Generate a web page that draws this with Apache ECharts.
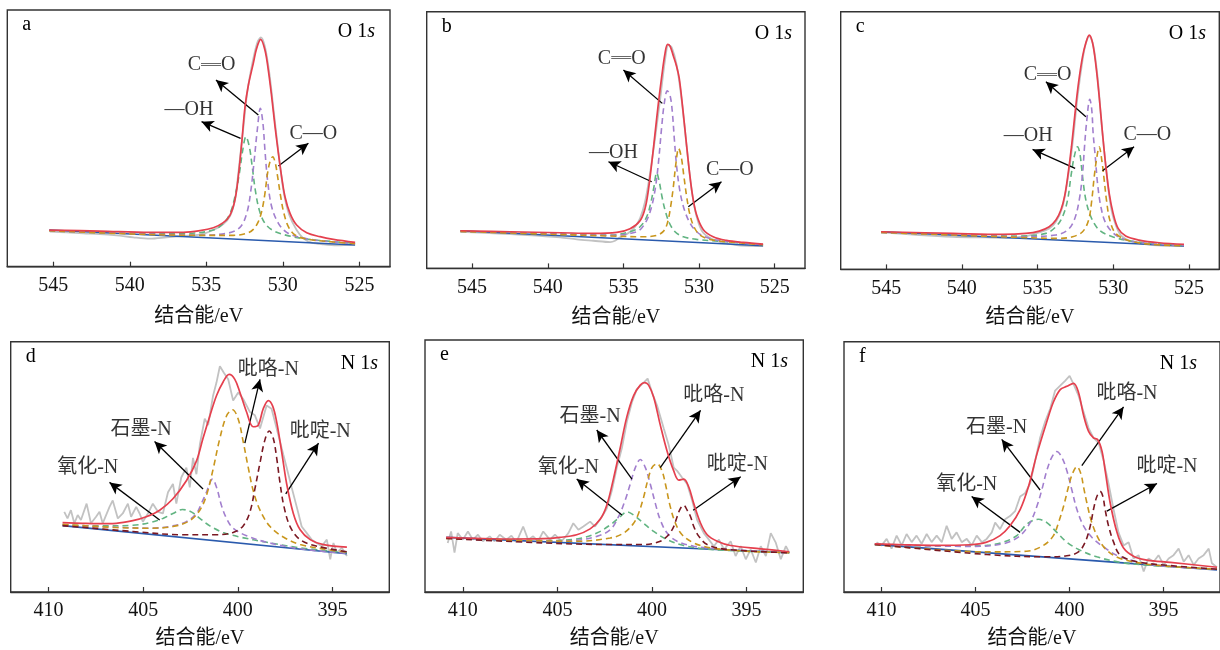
<!DOCTYPE html>
<html><head><meta charset="utf-8">
<script src="https://cdn.jsdelivr.net/npm/echarts@6/dist/echarts.min.js"></script>
<style>html,body{margin:0;padding:0;background:#fff}#c{width:1220px;height:650px}</style>
</head><body><div id="c"></div>
<script>
// ---------- tick labels ----------
const oTicks = [525, 530, 535, 540, 545];
const nTicks = [395, 400, 405, 410];

// ---------- panel a : O 1s ----------
const aBase = [[545.26,110],[525.28,65]];
const aRaw = [[545.22,105],[544.13,103],[543.04,100],[541.95,98],[540.86,94],[539.77,88],[538.68,84],[537.59,88],[536.50,92],[535.41,96],[534.54,110],[533.89,128],[533.45,152],[533.13,200],[532.91,280],[532.62,400],[532.32,525],[531.97,615],[531.67,672],[531.43,688],[531.17,660],[530.88,580],[530.58,460],[530.23,320],[529.93,220],[529.58,155],[529.10,110],[528.66,85],[528.12,72],[527.35,67],[526.48,64],[525.28,67]];
const aFit = [[545.26,110],[541.95,107],[538.68,103],[536.50,103],[535.41,108],[534.54,117],[533.89,132],[533.45,155],[533.13,200],[532.91,270],[532.69,370],[532.47,480],[532.25,545],[531.93,610],[531.71,655],[531.45,682],[531.17,650],[530.95,590],[530.73,510],[530.51,420],[530.29,340],[530.08,270],[529.86,210],[529.53,160],[529.10,125],[528.44,102],[527.57,90],[526.70,82],[525.28,73]];
const aOH = [[545.26,108],[539.77,100],[536.28,100],[534.54,110],[533.89,130],[533.45,160],[533.13,210],[532.84,280],[532.62,350],[532.41,390],[532.19,360],[532.00,300],[531.80,230],[531.54,170],[531.17,130],[530.62,108],[529.75,94],[528.44,83],[526.70,75],[525.28,70]];
const aCdO = [[545.26,108],[539.77,99],[535.41,95],[533.67,100],[532.80,118],[532.36,160],[532.10,225],[531.89,310],[531.67,410],[531.47,475],[531.30,430],[531.17,350],[531.00,260],[530.73,180],[530.29,130],[529.75,103],[528.88,88],[527.57,78],[525.28,69]];
const aCO = [[545.26,108],[539.77,98],[535.41,94],[533.24,94],[532.36,100],[531.93,112],[531.60,135],[531.36,170],[531.17,220],[531.00,280],[530.84,315],[530.66,330],[530.49,310],[530.34,270],[530.14,210],[529.93,160],[529.64,120],[529.21,95],[528.44,83],[526.70,74],[525.28,69]];

// ---------- panel b : O 1s ----------
const bBase = [[545.77,113],[525.77,68]];
const bRaw = [[545.77,110],[543.57,105],[541.37,100],[539.18,93],[538.08,87],[536.98,83],[535.88,79],[535.55,83],[535.22,93],[534.89,100],[534.56,110],[534.23,125],[533.90,150],[533.57,200],[533.24,285],[532.91,390],[532.58,505],[532.25,625],[532.03,670],[531.81,663],[531.48,610],[531.15,505],[530.82,365],[530.49,235],[530.16,155],[529.73,107],[528.85,83],[527.53,70],[525.77,67]];
const bFit = [[545.77,113],[542.47,110],[539.18,107],[536.98,105],[535.44,108],[534.56,119],[533.90,143],[533.57,180],[533.35,235],[533.13,315],[532.91,405],[532.69,495],[532.47,575],[532.25,645],[532.08,672],[531.92,667],[531.70,637],[531.48,605],[531.31,570],[531.09,485],[530.86,385],[530.65,295],[530.42,215],[530.16,160],[529.73,117],[529.07,95],[528.19,84],[527.09,78],[525.77,73]];
const bOH = [[545.77,111],[540.27,105],[535.88,100],[534.56,110],[533.90,125],[533.46,155],[533.20,195],[532.98,245],[532.80,287],[532.63,260],[532.45,215],[532.25,175],[531.97,137],[531.59,110],[531.04,95],[530.16,87],[528.19,80],[525.77,71]];
const bCdO = [[545.77,111],[540.27,105],[535.88,99],[534.12,110],[533.57,135],[533.20,175],[532.91,235],[532.69,315],[532.47,425],[532.30,495],[532.10,533],[531.90,515],[531.76,465],[531.63,385],[531.48,305],[531.26,230],[531.00,180],[530.65,140],[530.27,115],[529.73,97],[528.85,85],[527.09,77],[525.77,71]];
const bCO = [[545.77,111],[540.27,103],[535.88,97],[533.68,95],[532.80,99],[532.36,111],[532.10,135],[531.88,185],[531.70,245],[531.53,315],[531.35,360],[531.18,335],[531.00,275],[530.82,215],[530.60,160],[530.34,125],[529.95,100],[529.29,87],[528.19,80],[525.77,71]];

// ---------- panel c : O 1s ----------
const cBase = [[545.33,113],[525.33,70]];
const cRaw = [[545.33,111],[542.80,103],[540.60,98],[538.41,96],[537.09,95],[535.77,100],[534.89,111],[534.23,123],[533.79,143],[533.35,188],[533.02,268],[532.69,378],[532.36,518],[532.03,628],[531.81,678],[531.59,700],[531.33,673],[531.04,578],[530.76,428],[530.49,308],[530.23,208],[529.95,148],[529.51,103],[528.74,83],[527.42,73],[525.33,70]];
const cFit = [[545.33,113],[540.60,108],[537.31,105],[535.77,108],[534.89,115],[534.23,128],[533.79,148],[533.46,178],[533.20,223],[532.98,288],[532.76,368],[532.54,463],[532.30,558],[532.03,638],[531.81,680],[531.59,703],[531.37,680],[531.15,613],[530.93,518],[530.71,408],[530.49,308],[530.27,228],[530.01,168],[529.68,123],[529.18,100],[528.30,88],[526.98,80],[525.33,75]];
const cOH = [[545.33,111],[540.60,105],[536.21,100],[534.45,108],[533.79,128],[533.35,158],[533.02,208],[532.80,278],[532.58,338],[532.36,368],[532.19,343],[532.03,278],[531.81,208],[531.48,158],[530.93,118],[530.05,98],[528.96,86],[527.42,78],[525.33,72]];
const cCdO = [[545.33,111],[540.60,104],[536.21,98],[533.79,103],[533.02,118],[532.58,148],[532.25,208],[532.03,288],[531.90,368],[531.77,438],[531.55,510],[531.42,478],[531.33,408],[531.19,338],[531.04,258],[530.82,188],[530.49,138],[529.84,103],[528.96,86],[527.42,77],[525.33,72]];
const cCO = [[545.33,111],[540.60,103],[536.21,96],[533.57,93],[532.69,98],[532.03,113],[531.63,148],[531.42,208],[531.26,278],[531.08,338],[530.93,368],[530.76,328],[530.60,268],[530.45,208],[530.23,148],[529.84,108],[528.96,86],[527.42,75],[525.33,71]];

// ---------- panel d : N 1s ----------
const dBase = [[409.26,203],[394.24,117]];
const dRaw = [[409.17,245],[409.0,225],[408.82,250],[408.64,210],[408.46,235],[408.29,220],[407.99,270],[407.76,210],[407.49,230],[407.31,245],[407.14,210],[406.78,260],[406.61,280],[406.34,225],[406.08,240],[405.81,270],[405.64,230],[405.37,260],[405.19,240],[405.02,215],[404.75,240],[404.49,270],[404.22,245],[403.96,240],[403.69,305],[403.43,330],[403.25,270],[402.99,350],[402.72,380],[402.54,320],[402.37,410],[402.19,360],[402.01,450],[401.75,530],[401.57,510],[401.31,600],[401.13,640],[400.95,690],[400.74,670],[400.51,650],[400.25,585],[399.98,610],[399.72,590],[399.36,550],[399.10,540],[398.83,500],[398.48,570],[398.22,560],[397.95,500],[397.60,420],[397.42,380],[397.16,320],[396.98,280],[396.80,240],[396.63,200],[396.36,180],[396.10,160],[395.83,150],[395.57,140],[395.30,160],[395.12,100],[394.95,150],[394.77,120],[394.51,135],[394.24,110]];
const dFit = [[409.26,212],[408.20,210],[407.31,209],[406.43,210],[405.55,218],[404.84,230],[404.13,250],[403.43,285],[402.72,340],[402.19,400],[401.84,470],[401.48,538],[401.13,600],[400.78,642],[400.46,665],[400.16,650],[399.89,610],[399.54,550],[399.19,505],[398.92,510],[398.66,560],[398.39,585],[398.16,568],[397.95,520],[397.69,430],[397.42,330],[397.07,240],[396.71,190],[396.18,160],[395.48,145],[394.24,137]];
const dOx = [[409.26,205],[407.31,202],[405.55,204],[404.66,212],[403.96,225],[403.43,240],[402.93,252],[402.46,245],[402.01,225],[401.48,202],[400.78,182],[399.89,168],[398.48,152],[396.71,135],[394.24,120]];
const dGr = [[409.26,204],[406.43,198],[404.66,195],[403.43,202],[402.72,215],[402.19,240],[401.93,270],[401.66,305],[401.34,345],[401.10,315],[400.87,265],[400.60,225],[400.25,195],[399.54,172],[398.48,152],[396.71,132],[394.24,118]];
const dPyr = [[409.26,207],[406.43,197],[404.66,195],[403.43,200],[402.54,218],[402.01,250],[401.66,295],[401.31,375],[400.95,470],[400.60,538],[400.28,557],[399.98,528],[399.72,460],[399.45,380],[399.19,310],[398.83,250],[398.30,200],[397.60,168],[396.71,145],[394.95,127],[394.24,122]];
const dPyd = [[409.26,203],[405.55,185],[402.90,175],[401.13,175],[400.25,182],[399.72,202],[399.36,245],[399.10,315],[398.83,395],[398.57,465],[398.34,492],[398.13,470],[397.95,410],[397.77,332],[397.56,260],[397.24,200],[396.71,160],[395.83,140],[394.24,123]];

// ---------- panel e : N 1s ----------
const eBase = [[410.88,167],[392.74,120]];
const eRaw = [[410.80,150],[410.62,185],[410.44,120],[410.27,180],[410.0,160],[409.73,185],[409.47,160],[409.20,175],[408.94,155],[408.58,170],[408.32,155],[408.05,175],[407.70,160],[407.43,172],[407.17,152],[406.81,200],[406.55,160],[406.28,170],[406.02,155],[405.75,185],[405.40,160],[405.13,175],[404.78,155],[404.42,180],[404.16,210],[403.89,190],[403.63,200],[403.27,215],[403.01,200],[402.65,230],[402.39,255],[402.12,310],[401.86,380],[401.59,440],[401.33,520],[401.06,580],[400.80,620],[400.62,630],[400.44,640],[400.23,652],[400.0,610],[399.73,570],[399.38,500],[399.12,450],[398.85,380],[398.67,370],[398.41,350],[398.14,330],[397.88,280],[397.61,220],[397.26,180],[396.99,160],[396.73,140],[396.46,160],[396.19,130],[395.84,155],[395.58,110],[395.31,140],[395.04,100],[394.78,130],[394.51,90],[394.25,140],[393.98,110],[393.72,180],[393.45,150],[393.19,100],[392.92,140],[392.74,120]];
const eFit = [[410.88,167],[409.29,164],[407.52,162],[405.75,163],[404.87,167],[403.98,175],[403.27,193],[402.74,222],[402.39,265],[402.04,345],[401.68,440],[401.33,535],[400.97,600],[400.62,632],[400.39,640],[400.18,632],[399.91,595],[399.56,510],[399.20,430],[398.85,370],[398.58,342],[398.32,345],[398.05,320],[397.79,270],[397.43,210],[397.08,175],[396.55,155],[395.84,142],[394.25,132],[392.74,123]];
const eOx = [[410.88,165],[405.75,157],[403.98,162],[402.92,180],[402.21,205],[401.68,230],[401.33,245],[400.97,235],[400.44,210],[399.91,185],[399.20,160],[398.32,142],[396.90,130],[392.74,120]];
const eGr = [[410.88,165],[405.75,155],[403.98,158],[402.92,170],[402.21,190],[401.77,230],[401.42,280],[401.15,330],[400.88,380],[400.62,405],[400.35,380],[400.09,330],[399.82,270],[399.56,220],[399.20,180],[398.67,155],[397.79,140],[396.02,130],[392.74,120]];
const ePyr = [[410.88,164],[403.98,155],[402.21,165],[401.50,180],[400.97,210],[400.71,240],[400.44,290],[400.23,340],[400.0,380],[399.73,392],[399.47,370],[399.29,330],[399.03,260],[398.76,210],[398.41,175],[397.79,150],[396.90,135],[395.13,125],[392.74,120]];
const ePyd = [[410.88,164],[405.75,150],[402.21,145],[400.44,145],[399.56,155],[399.12,175],[398.85,200],[398.67,230],[398.50,255],[398.32,265],[398.14,250],[397.96,230],[397.79,200],[397.52,170],[397.08,145],[396.02,130],[392.74,120]];

// ---------- panel f : N 1s ----------
const fBase = [[410.36,146],[392.16,68]];
const fRaw = [[410.27,153],[410.0,143],[409.73,163],[409.47,133],[409.20,173],[408.93,143],[408.67,178],[408.40,153],[408.14,173],[407.87,148],[407.60,178],[407.34,153],[407.07,173],[406.80,153],[406.54,203],[406.27,163],[406.01,183],[405.74,153],[405.47,163],[405.21,143],[404.94,173],[404.67,153],[404.41,163],[404.14,183],[403.96,213],[403.70,193],[403.43,223],[403.17,233],[402.90,248],[402.63,293],[402.37,303],[402.10,333],[401.83,403],[401.57,473],[401.30,523],[401.03,563],[400.77,618],[400.50,633],[400.24,648],[400.0,663],[399.79,638],[399.53,603],[399.26,553],[398.99,503],[398.73,473],[398.46,458],[398.19,403],[397.93,333],[397.66,253],[397.40,183],[397.13,143],[396.86,153],[396.60,103],[396.33,113],[396.06,63],[395.80,103],[395.53,93],[395.27,113],[395.0,83],[394.73,103],[394.47,113],[394.20,133],[393.93,93],[393.67,113],[393.40,83],[393.14,103],[392.87,113],[392.60,133],[392.43,88],[392.16,76]];
const fFit = [[410.36,148],[408.85,145],[407.07,143],[405.30,145],[404.41,153],[403.70,173],[403.17,203],[402.63,253],[402.19,323],[401.74,423],[401.21,523],[400.86,583],[400.50,621],[400.15,631],[399.79,640],[399.53,613],[399.26,543],[398.99,493],[398.73,473],[398.51,468],[398.28,433],[398.11,373],[397.84,273],[397.48,183],[397.13,135],[396.60,110],[395.89,98],[394.64,91],[392.16,76]];
const fOx = [[410.36,146],[406.18,141],[404.41,143],[403.52,153],[402.81,173],[402.37,203],[402.01,218],[401.66,223],[401.21,213],[400.68,183],[400.15,153],[399.44,128],[398.55,108],[397.31,91],[395.53,81],[392.16,70]];
const fGr = [[410.36,146],[405.30,140],[403.52,148],[402.63,173],[402.10,213],[401.74,263],[401.48,313],[401.21,373],[400.95,413],[400.68,431],[400.41,413],[400.15,373],[399.88,313],[399.61,253],[399.26,203],[398.82,168],[398.19,138],[397.31,108],[395.53,83],[392.16,70]];
const fPyr = [[410.36,146],[404.41,123],[402.28,125],[401.39,143],[400.86,173],[400.59,213],[400.32,263],[400.06,323],[399.85,363],[399.61,385],[399.40,363],[399.26,323],[399.08,273],[398.82,213],[398.46,163],[398.02,128],[397.31,103],[395.53,83],[392.16,70]];
const fPyd = [[410.36,146],[404.41,115],[401.21,108],[400.15,111],[399.53,123],[399.17,153],[398.90,203],[398.73,253],[398.55,293],[398.37,308],[398.23,293],[398.11,253],[397.93,203],[397.66,153],[397.31,113],[396.42,93],[394.64,81],[392.16,70]];

// ---------- annotations (text, label point, arrow tail, arrow head) in data coords ----------
const aNotes = [
  ['C═O', [534.65,605], [531.60,455], [534.37,560]],
  ['—OH', [536.13,470], [532.76,385], [535.31,435]],
  ['C—O', [528.01,400], [530.29,302], [528.33,370]]];
const bNotes = [
  ['C═O', [535.11,630], [532.43,495], [535.00,595]],
  ['—OH', [535.66,347], [533.13,260], [535.99,320]],
  ['C—O', [527.97,295], [530.71,185], [528.52,260]]];
const cNotes = [
  ['C═O', [534.34,583], [531.81,458], [534.45,563]],
  ['—OH', [535.62,400], [532.52,303], [535.33,360]],
  ['C—O', [527.75,403], [530.71,296], [528.63,368]]];
const dNotes = [
  ['吡咯-N', [398.39,680], [399.63,455], [398.83,650]],
  ['石墨-N', [405.11,495], [401.84,315], [404.40,460]],
  ['氧化-N', [407.93,380], [404.13,220], [406.78,335]],
  ['吡啶-N', [395.65,490], [397.47,300], [395.74,455]]];
const eNotes = [
  ['吡咯-N', [396.73,600], [399.56,380], [397.43,555]],
  ['石墨-N', [403.27,535], [401.06,345], [402.92,495]],
  ['氧化-N', [404.42,380], [401.59,235], [403.98,345]],
  ['吡啶-N', [395.49,390], [397.82,250], [395.31,352]]];
const fNotes = [
  ['吡咯-N', [396.95,608], [399.35,388], [397.13,568]],
  ['石墨-N', [403.88,503], [401.57,313], [403.61,468]],
  ['氧化-N', [405.47,328], [402.63,183], [405.21,293]],
  ['吡啶-N', [394.82,383], [398.02,248], [395.35,333]]];

// ---------- layout & styling ----------
const SERIF = "'Liberation Serif','Times New Roman','Noto Sans CJK SC',serif";
const C = {fit:'#e5404e', base:'#2a5aad', raw:'#c2c2c2', purple:'#a27fce', green:'#62b482', orange:'#c9961d', dred:'#7a1822'};

const panels = [
  {g:{left:7.3,top:10,width:382.7,height:256.7}, x:[523,548], ymax:770, ticks:oTicks, letter:'a', el:'O', base:aBase, raw:aRaw, fit:aFit,
   comps:[[aOH,C.green],[aCdO,C.purple],[aCO,C.orange]], notes:aNotes, rawSmooth:0.3, gap:40},
  {g:{left:426.7,top:11.7,width:378.3,height:256.7}, x:[523,548], ymax:770, ticks:oTicks, letter:'b', el:'O', base:bBase, raw:bRaw, fit:bFit,
   comps:[[bOH,C.green],[bCdO,C.purple],[bCO,C.orange]], notes:bNotes, rawSmooth:0.3, gap:39},
  {g:{left:840.7,top:11.7,width:378.6,height:257.7}, x:[523,548], ymax:773, ticks:oTicks, letter:'c', el:'O', base:cBase, raw:cRaw, fit:cFit,
   comps:[[cOH,C.green],[cCdO,C.purple],[cCO,C.orange]], notes:cNotes, rawSmooth:0.3, gap:38},
  {g:{left:10.7,top:341.7,width:378.6,height:255}, x:[392,412], ymax:765, ticks:nTicks, letter:'d', el:'N', base:dBase, raw:dRaw, fit:dFit,
   comps:[[dOx,C.green],[dGr,C.purple],[dPyr,C.orange],[dPyd,C.dred]], notes:dNotes, rawSmooth:false, gap:37},
  {g:{left:425,top:340,width:378.3,height:256.7}, x:[392,412], ymax:770, ticks:nTicks, letter:'e', el:'N', base:eBase, raw:eRaw, fit:eFit,
   comps:[[eOx,C.green],[eGr,C.purple],[ePyr,C.orange],[ePyd,C.dred]], notes:eNotes, rawSmooth:false, gap:37},
  {g:{left:844,top:341.7,width:378,height:256}, x:[392,412], ymax:768, ticks:nTicks, letter:'f', el:'N', base:fBase, raw:fRaw, fit:fFit,
   comps:[[fOx,C.green],[fGr,C.purple],[fPyr,C.orange],[fPyd,C.dred]], notes:fNotes, rawSmooth:false, gap:37}
];
const elRight = [840, 423, 9, 837, 427, 18];

const grid=[], xAxis=[], yAxis=[], series=[], title=[];
panels.forEach((p,i)=>{
  grid.push(Object.assign({show:true, borderColor:'#333', borderWidth:1.4, backgroundColor:'transparent'}, p.g));
  xAxis.push({type:'value', gridIndex:i, min:p.x[0], max:p.x[1], inverse:true,
    name:'结合能/eV', nameLocation:'middle', nameGap:p.gap,
    nameTextStyle:{fontFamily:SERIF, fontSize:20, color:'#111'},
    axisLine:{show:true, lineStyle:{color:'#333', width:1.4}},
    axisTick:{show:true, inside:true, length:5, customValues:p.ticks, lineStyle:{color:'#333', width:1.2}},
    axisLabel:{show:true, customValues:p.ticks, margin:9, fontFamily:SERIF, fontSize:20, color:'#111'},
    splitLine:{show:false}});
  yAxis.push({type:'value', gridIndex:i, min:0, max:p.ymax, show:false});
  const common = {type:'line', xAxisIndex:i, yAxisIndex:i, symbol:'none', showSymbol:false, silent:true, animation:false};
  series.push(Object.assign({}, common, {data:p.raw, smooth:p.rawSmooth, lineStyle:{color:C.raw, width:1.8}, z:2}));
  series.push(Object.assign({}, common, {data:p.base, lineStyle:{color:C.base, width:1.6}, z:3,
    markLine:{silent:true, animation:false, symbol:['none','arrow'], symbolSize:[9,12],
      lineStyle:{color:'#000', width:1.3, type:'solid'}, label:{show:false},
      emphasis:{disabled:true},
      data:p.notes.map(n=>[{coord:n[2]},{coord:n[3]}])}}));
  p.comps.forEach(c=>{
    series.push(Object.assign({}, common, {data:c[0], smooth:0.35, lineStyle:{color:c[1], width:1.6, type:[6,4]}, z:4}));
  });
  series.push(Object.assign({}, common, {data:p.fit, smooth:0.35, lineStyle:{color:C.fit, width:1.7}, z:5}));
  series.push({type:'scatter', xAxisIndex:i, yAxisIndex:i, silent:true, animation:false, symbolSize:1,
    itemStyle:{color:'rgba(0,0,0,0)'}, z:6,
    data:p.notes.map(n=>({value:n[1], label:{formatter: n[0].indexOf('═')>=0 ? '{t|C}{b|═}{t|O}' : n[0]}})),
    label:{show:true, position:'inside', color:'#000', fontFamily:SERIF, fontSize:20,
      rich:{t:{fontFamily:SERIF, fontSize:20, color:'#000'}, b:{fontFamily:"'Noto Sans CJK SC'", fontSize:20, color:'#000'}}}});
  title.push({text:p.letter, left:p.g.left+10, top:p.g.top,
    textStyle:{fontFamily:SERIF, fontSize:20, fontWeight:'normal', color:'#000'}});
  title.push({text:'{n|'+p.el+' 1}{i|s}', right:elRight[i], top:p.g.top+7,
    textStyle:{fontWeight:'normal', rich:{n:{fontFamily:SERIF, fontSize:20, fontWeight:'normal', color:'#000'}, i:{fontFamily:SERIF, fontSize:20, fontWeight:'normal', fontStyle:'italic', color:'#000'}}}});
});

const chart = echarts.init(document.getElementById('c'), null, {renderer:'canvas'});
chart.setOption({backgroundColor:'#fff', animation:false, title, grid, xAxis, yAxis, series});
</script>
</body></html>
